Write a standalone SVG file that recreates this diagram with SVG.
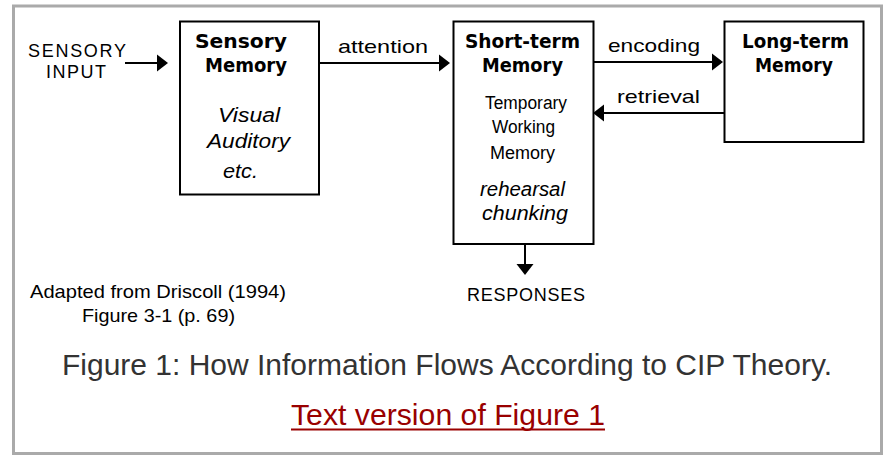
<svg xmlns="http://www.w3.org/2000/svg" width="885" height="455" viewBox="0 0 885 455">
<style>
.box{fill:#fff;stroke:#000;stroke-width:2}
.conn{stroke:#000;stroke-width:2;fill:none}
.t{font-family:"Liberation Sans",Arial,sans-serif;fill:#000}
.r{font-size:18px}
.cap{font-size:19px}
.sc{font-size:18px}
.i{font-size:20px;font-style:italic}
.b{font-family:"DejaVu Sans","Liberation Sans",sans-serif;font-weight:bold;font-size:19px;fill:#000}
.caption{font-family:"Liberation Sans",Arial,sans-serif;font-size:30px;fill:#333}
.link{font-family:"Liberation Sans",Arial,sans-serif;font-size:30px;fill:#990000}
</style>
<defs>
<marker id="arr" viewBox="0 -9 12 18" markerWidth="12" markerHeight="18" refX="0" refY="0" markerUnits="userSpaceOnUse" orient="auto">
<path d="M0,-8.5 L11,0 L0,8.5 Z" fill="#000"/>
</marker>
</defs>
<rect x="0" y="0" width="885" height="455" fill="#fff"/>
<rect x="13.5" y="6" width="868" height="447.5" fill="#fff" stroke="#aaa" stroke-width="3"/>

<g id="input">
<text class="t sc" x="28" y="56.5" textLength="98" lengthAdjust="spacing">SENSORY</text>
<text class="t sc" x="46" y="78" textLength="60" lengthAdjust="spacing">INPUT</text>
</g>

<g id="sensory-memory">
<rect class="box" x="180" y="21.5" width="139" height="173"/>
<text class="b" x="195" y="48" textLength="92" lengthAdjust="spacingAndGlyphs">Sensory</text>
<text class="b" x="205" y="72" textLength="82" lengthAdjust="spacingAndGlyphs">Memory</text>
<text class="t i" x="218" y="122" textLength="62" lengthAdjust="spacingAndGlyphs">Visual</text>
<text class="t i" x="207" y="148" textLength="83" lengthAdjust="spacingAndGlyphs">Auditory</text>
<text class="t i" x="223" y="178" textLength="35" lengthAdjust="spacingAndGlyphs">etc.</text>
</g>

<g id="short-term-memory">
<rect class="box" x="453.5" y="21.5" width="140" height="222.5"/>
<text class="b" x="465" y="48" textLength="115" lengthAdjust="spacingAndGlyphs">Short-term</text>
<text class="b" x="482" y="72" textLength="81" lengthAdjust="spacingAndGlyphs">Memory</text>
<text class="t r" x="485" y="109" textLength="82" lengthAdjust="spacingAndGlyphs">Temporary</text>
<text class="t r" x="492" y="133" textLength="63" lengthAdjust="spacingAndGlyphs">Working</text>
<text class="t r" x="490" y="159" textLength="65" lengthAdjust="spacingAndGlyphs">Memory</text>
<text class="t i" x="480" y="196" textLength="85" lengthAdjust="spacingAndGlyphs">rehearsal</text>
<text class="t i" x="482" y="220" textLength="86" lengthAdjust="spacingAndGlyphs">chunking</text>
</g>

<g id="long-term-memory">
<rect class="box" x="724.5" y="21.5" width="139" height="120.5"/>
<text class="b" x="742" y="48" textLength="107" lengthAdjust="spacingAndGlyphs">Long-term</text>
<text class="b" x="755" y="72" textLength="78" lengthAdjust="spacingAndGlyphs">Memory</text>
</g>

<g id="responses">
<text class="t sc" x="467" y="301" textLength="118" lengthAdjust="spacing">RESPONSES</text>
</g>

<g id="connectors">
<line class="conn" x1="125" y1="63" x2="157" y2="63" marker-end="url(#arr)"/>
<line class="conn" x1="319" y1="63" x2="439" y2="63" marker-end="url(#arr)"/>
<text class="t cap" x="338" y="53" textLength="90" lengthAdjust="spacingAndGlyphs">attention</text>
<line class="conn" x1="594" y1="62" x2="712" y2="62" marker-end="url(#arr)"/>
<text class="t cap" x="608" y="52" textLength="92" lengthAdjust="spacingAndGlyphs">encoding</text>
<line class="conn" x1="724" y1="113" x2="604" y2="113" marker-end="url(#arr)"/>
<text class="t cap" x="617" y="103" textLength="83" lengthAdjust="spacingAndGlyphs">retrieval</text>
<line class="conn" x1="525" y1="244" x2="525" y2="264" marker-end="url(#arr)"/>
</g>

<g id="source">
<text class="t cap" x="30" y="298" textLength="256" lengthAdjust="spacingAndGlyphs">Adapted from Driscoll (1994)</text>
<text class="t cap" x="82" y="322" textLength="153" lengthAdjust="spacingAndGlyphs">Figure 3-1 (p. 69)</text>
</g>

<g id="caption">
<text class="caption" x="447" y="375" text-anchor="middle" textLength="770" lengthAdjust="spacingAndGlyphs">Figure 1: How Information Flows According to CIP Theory.</text>
<text class="link" x="291" y="425" textLength="314" lengthAdjust="spacingAndGlyphs">Text version of Figure 1</text>
<rect x="291" y="428.5" width="314" height="2" fill="#990000"/>
</g>
</svg>
